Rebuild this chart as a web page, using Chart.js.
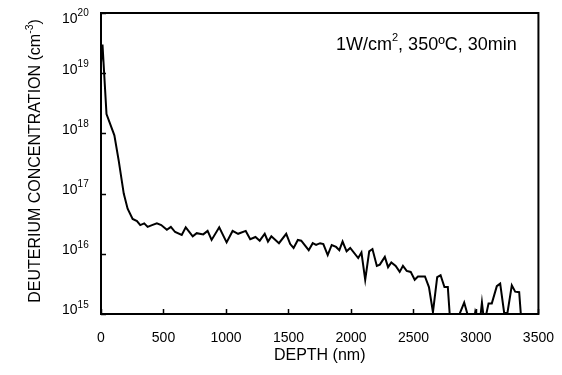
<!DOCTYPE html>
<html>
<head>
<meta charset="utf-8">
<script src="https://cdn.jsdelivr.net/npm/chart.js@4.4.1/dist/chart.umd.min.js"></script>
<style>
  html,body{margin:0;padding:0;background:#fff;}
  #wrap{width:562px;height:375px;}
</style>
</head>
<body>
<div id="wrap"><canvas id="chart" width="562" height="375"></canvas></div>
<script>
// ================= DATA ==================
const depth = [0,12,44,107,142,182,213,253,288,314,346,373,408,447,482,527,559,593,646,678,
  734,766,818,853,885,946,1005,1053,1097,1158,1194,1236,1270,1310,1336,1363,1424,1482,1514,1541,
  1575,1602,1662,1694,1721,1753,1779,1814,1846,1881,1907,1933,1965,1994,2058,2084,2114,2146,2172,2207,
  2231,2271,2297,2323,2358,2390,2416,2446,2478,2510,2536,2592,2624,2656,2690,2717,2748,2775,2800,2860,
  2906,2945,2975,2995,3030,3048,3067,3101,3127,3167,3194,3226,3252,3287,3314,3346,3370];

const concentration = [1.5e19,3.0e19,2.1e18,9.3e17,3.5e17,1.0e17,5.6e16,3.8e16,3.5e16,3.0e16,
  3.2e16,2.8e16,3.0e16,3.2e16,3.0e16,2.5e16,2.8e16,2.3e16,2.05e16,2.75e16,
  1.95e16,2.2e16,2.1e16,2.4e16,1.7e16,2.75e16,1.55e16,2.4e16,2.15e16,2.4e16,
  1.75e16,1.9e16,1.65e16,2.15e16,1.6e16,1.95e16,1.5e16,2.15e16,1.45e16,1.25e16,
  1.7e16,1.65e16,1.15e16,1.5e16,1.4e16,1.5e16,1.45e16,9.5e15,1.4e16,1.3e16,
  1.15e16,1.6e16,1.1e16,1.25e16,8.5e15,1.05e16,3.7e15,1.1e16,1.2e16,6.3e15,
  6.6e15,8.9e15,6.0e15,7.2e15,6.3e15,5.0e15,6.3e15,5.2e15,5.0e15,3.7e15,
  4.2e15,4.2e15,2.8e15,1.07e15,4.1e15,4.4e15,2.8e15,2.8e15,5e14,9e14,
  1.55e15,8e14,6e14,1.1e15,7e14,1.55e15,7e14,1.5e15,1.5e15,2.9e15,
  3.2e15,1.04e15,1.04e15,3.0e15,2.35e15,2.3e15,5e14];

const xTicks = [0,500,1000,1500,2000,2500,3000,3500];
const yExponents = [15,16,17,18,19,20];

const xTitle = "DEPTH (nm)";
const yTitle = "DEUTERIUM CONCENTRATION (cm";
const yTitleSup = "-3";
const noteMain = "1W/cm";
const noteSup = "2";
const noteRest = ", 350ºC, 30min";

const FONT = "'Liberation Sans', Arial, sans-serif";

// ================= DRAW HELPERS ==================
// y labels like 10^16 with superscript, frame, inside ticks, titles, note
const extrasPlugin = {
  id: "extras",
  afterDraw(chart){
    const ctx = chart.ctx;
    const area = chart.chartArea;
    const xs = chart.scales.x;
    const ys = chart.scales.y;
    ctx.save();
    ctx.fillStyle = "#000";
    ctx.strokeStyle = "#000";

    // frame
    ctx.lineWidth = 2;
    ctx.strokeRect(area.left, area.top, area.right-area.left, area.bottom-area.top);

    // ticks pointing inwards
    ctx.lineWidth = 1.5;
    ctx.beginPath();
    xTicks.forEach(v=>{
      const px = Math.round(xs.getPixelForValue(v))+0.5;
      ctx.moveTo(px, area.bottom);
      ctx.lineTo(px, area.bottom-5);
    });
    yExponents.forEach(e=>{
      const py = Math.round(ys.getPixelForValue(Math.pow(10,e)))+0.5;
      ctx.moveTo(area.left, py);
      ctx.lineTo(area.left+5, py);
    });
    ctx.stroke();

    // y tick labels
    ctx.textBaseline = "middle";
    ctx.textAlign = "left";
    yExponents.forEach(e=>{
      const py = ys.getPixelForValue(Math.pow(10,e));
      let yMain = Math.max(py-3.5, 19);
      ctx.font = "14px " + FONT;
      ctx.fillText("10", 62, yMain);
      const w = ctx.measureText("10").width;
      ctx.font = "10px " + FONT;
      ctx.fillText(String(e), 62+w, yMain-5.5);
    });

    // x title
    ctx.font = "16px " + FONT;
    ctx.textAlign = "center";
    ctx.fillText(xTitle, (area.left+area.right)/2, 356);

    // y title, rotated
    ctx.save();
    ctx.translate(36, 161);
    ctx.rotate(-Math.PI/2);
    ctx.font = "16px " + FONT;
    const w1 = ctx.measureText(yTitle).width;
    ctx.font = "10.5px " + FONT;
    const w2 = ctx.measureText(yTitleSup).width;
    ctx.font = "16px " + FONT;
    const w3 = ctx.measureText(")").width;
    let sx = -(w1+w2+w3)/2;
    ctx.textAlign = "left";
    ctx.fillText(yTitle, sx, 0);
    ctx.font = "10.5px " + FONT;
    ctx.fillText(yTitleSup, sx+w1, -6);
    ctx.font = "16px " + FONT;
    ctx.fillText(")", sx+w1+w2, 0);
    ctx.restore();

    // note in top right
    ctx.textAlign = "left";
    let nx = 336;
    ctx.font = "18px " + FONT;
    ctx.fillText(noteMain, nx, 45);
    nx += ctx.measureText(noteMain).width;
    ctx.font = "11px " + FONT;
    ctx.fillText(noteSup, nx, 38);
    nx += ctx.measureText(noteSup).width;
    ctx.font = "18px " + FONT;
    ctx.fillText(noteRest, nx, 45);

    ctx.restore();
  }
};

// ================= CHART ==================
const points = depth.map((d,i)=>({x:d, y:concentration[i]}));

new Chart(document.getElementById("chart"),{
  type:"line",
  data:{
    datasets:[{
      data:points,
      borderColor:"#000",
      borderWidth:2,
      pointRadius:0,
      tension:0,
      fill:false
    }]
  },
  options:{
    responsive:false,
    animation:false,
    events:[],
    layout:{padding:{left:0,right:22,top:13,bottom:0}},
    plugins:{legend:{display:false},tooltip:{enabled:false}},
    scales:{
      x:{
        type:"linear",
        min:0,max:3500,
        afterBuildTicks:(s)=>{ s.ticks = xTicks.map(v=>({value:v})); },
        afterFit:(s)=>{ s.height = 61; },
        grid:{display:false},
        border:{display:false},
        ticks:{color:"#000",padding:8,maxRotation:0,autoSkip:false,
          font:{family:FONT,size:14},
          callback:(v)=>String(v)}
      },
      y:{
        type:"logarithmic",
        min:1e15,max:1e20,
        afterBuildTicks:(s)=>{ s.ticks = yExponents.map(e=>({value:Math.pow(10,e)})); },
        afterFit:(s)=>{ s.width = 101; },
        grid:{display:false},
        border:{display:false},
        ticks:{display:false}
      }
    }
  },
  plugins:[extrasPlugin]
});
</script>
</body>
</html>
